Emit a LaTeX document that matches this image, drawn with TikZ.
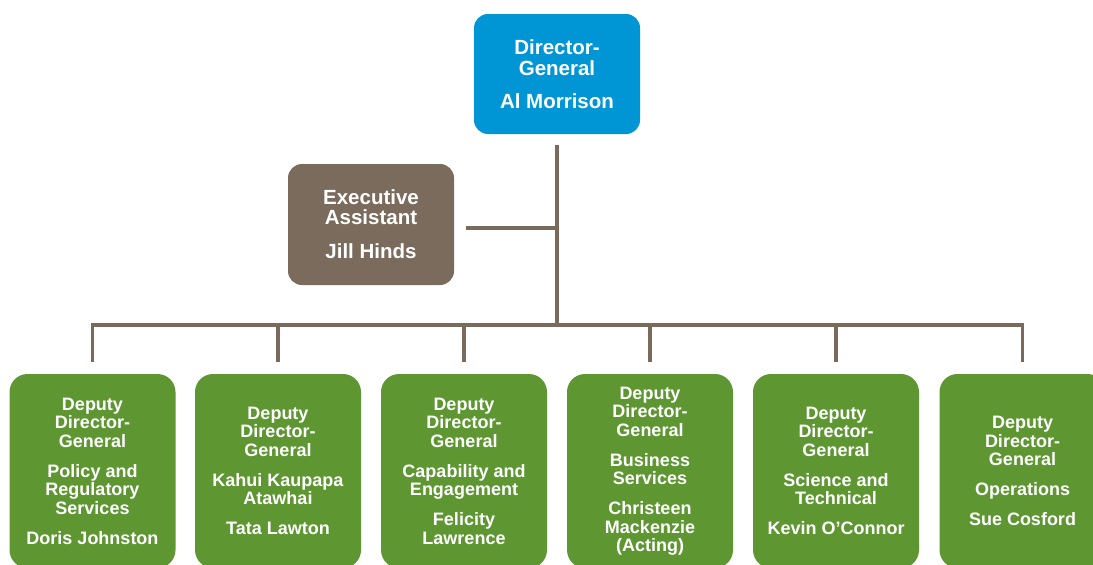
\documentclass[tikz,border=0pt]{standalone}
\usepackage{fontspec}
\setmainfont{Liberation Sans}
\definecolor{dgblue}{RGB}{0,150,214}
\definecolor{eabrown}{RGB}{123,107,92}
\definecolor{ddggreen}{RGB}{94,151,50}
\definecolor{linkbrown}{RGB}{122,106,91}
\begin{document}
\begin{tikzpicture}[x=1pt,y=-1pt,
  card/.style={rectangle, text=white, align=center, inner sep=0pt},
  topcard/.style={card, fill=dgblue, rounded corners=14pt,
    minimum width=166pt, minimum height=120pt,
    font=\fontsize{20.5}{21}\selectfont\bfseries},
  eacard/.style={card, fill=eabrown, rounded corners=14pt,
    minimum width=166pt, minimum height=121pt,
    font=\fontsize{20.5}{20}\selectfont\bfseries},
  ddgcard/.style={card, fill=ddggreen, rounded corners=18pt,
    minimum width=166pt, minimum height=194pt,
    font=\fontsize{18}{18.5}\selectfont\bfseries},
  link/.style={draw=linkbrown, line width=3.5pt}
]
\useasboundingbox (0,0) rectangle (1093,565);

% Director-General
\node[topcard] (dg) at (557,74) {Director-\\General\\[12pt]Al Morrison};

% Executive Assistant
\node[eacard] (ea) at (371,224.5) {Executive\\Assistant\\[14pt]Jill Hinds};

% Deputy Directors-General
\node[ddgcard] (d1) at (92.5,471) {Deputy\\Director-\\General\\[11.5pt]Policy and\\Regulatory\\Services\\[11.5pt]Doris Johnston};
\node[ddgcard] (d2) at (278,471) {Deputy\\Director-\\General\\[11.5pt]Kahui Kaupapa\\Atawhai\\[11.5pt]Tata Lawton};
\node[ddgcard] (d3) at (464,471) {Deputy\\Director-\\General\\[11.5pt]Capability and\\Engagement\\[11.5pt]Felicity\\Lawrence};
\node[ddgcard] (d4) at (650,471) {Deputy\\Director-\\General\\[11.5pt]Business\\Services\\[11.5pt]Christeen\\Mackenzie\\(Acting)};
\node[ddgcard] (d5) at (836,471) {Deputy\\Director-\\General\\[11.5pt]Science and\\Technical\\[11.5pt]Kevin O’Connor};
\node[ddgcard] (d6) at (1022.5,471) {Deputy\\Director-\\General\\[11.5pt]Operations\\[11.5pt]Sue Cosford};

% Connectors
\coordinate (bus) at (557,325);
\draw[link, shorten <=11pt] (dg.south) -- (dg.south |- bus);
\draw[link, shorten <=12pt] ([yshift=-3.5pt]ea.east) -- ([yshift=-3.5pt]ea.east -| dg.south);
\draw[link, shorten <=12pt, shorten >=12pt] (d1.north) -- (d1.north |- bus) -- (d6.north |- bus) -- (d6.north);
\foreach \n in {d2,d3,d4,d5}
  \draw[link, shorten <=12pt] (\n.north) -- (\n.north |- bus);
\end{tikzpicture}
\end{document}
